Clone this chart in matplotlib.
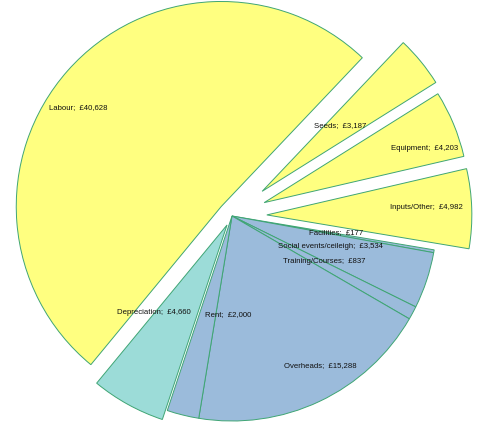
import matplotlib.pyplot as plt

plt.rcParams['font.family'] = ['Liberation Sans', 'DejaVu Sans']

# cost breakdown, drawn clockwise starting with Labour
categories = ['Labour', 'Seeds', 'Equipment', 'Inputs/Other', 'Facilities',
              'Social events/ceileigh', 'Training/Courses', 'Overheads',
              'Rent', 'Depreciation']
costs = [40628, 3187, 4203, 4982, 177, 3534, 837, 15288, 2000, 4660]

yellow = '#ffff80'
teal = '#9cdcd8'
blue = '#9bbbdb'
colors = [yellow, yellow, yellow, yellow, blue, blue, blue, blue, blue, teal]
explode = [0.07, 0.19, 0.17, 0.17, 0, 0, 0, 0, 0, 0.05]

# label centres in pie units (radius = 1)
label_xy = [(-0.75, 0.53), (0.53, 0.44), (0.94, 0.33), (0.95, 0.04),
            (0.51, -0.08), (0.48, -0.15), (0.45, -0.22), (0.43, -0.73),
            (-0.02, -0.48), (-0.38, -0.47)]

fig = plt.figure(figsize=(4.82, 4.25), dpi=100)
ax = fig.add_axes([0, 0, 1, 1])

ax.pie(costs, colors=colors, explode=explode, startangle=230.5,
       counterclock=False, radius=1,
       wedgeprops=dict(edgecolor='#3fa574', linewidth=0.7))

for name, val, (x, y) in zip(categories, costs, label_xy):
    ax.text(x, y, f'{name};  £{val:,}', ha='center', va='center',
            fontsize=5.6, color='#111111')

# 205 px per unit, pie centre at (232, 216) px from top-left
ax.set_xlim(-232 / 205, (482 - 232) / 205)
ax.set_ylim(-(425 - 216) / 205, 216 / 205)
ax.set_aspect('auto')
ax.axis('off')

fig.savefig('out.png', dpi=100)
